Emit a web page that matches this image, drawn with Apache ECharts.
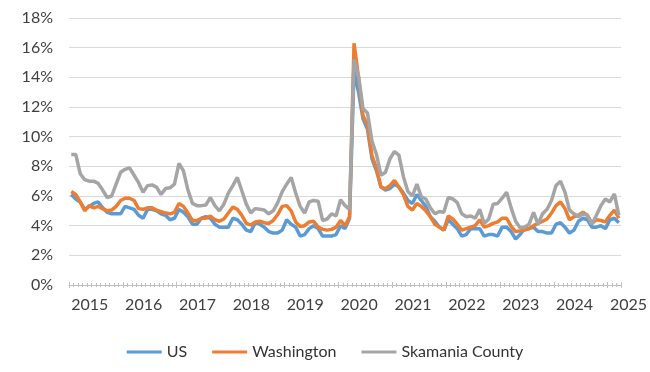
<!DOCTYPE html>
<html><head><meta charset="utf-8">
<script src="https://cdn.jsdelivr.net/npm/echarts@6/dist/echarts.min.js"></script>
<style>html,body{margin:0;padding:0;background:#fff}#c{width:650px;height:372px}</style>
</head><body><div id="c"></div>
<script>
// Monthly, Jan 2015 .. Mar 2025 (123 months)
const startYear = 2015;
const monthCount = 123;
const yTicks = [0, 2, 4, 6, 8, 10, 12, 14, 16, 18];

const usRate = [
  6.1,5.8,5.6,5.1,5.3,5.5,5.6,5.2,4.9,4.8,4.8,4.8,
  5.3,5.2,5.1,4.7,4.5,5.1,5.1,5.0,4.8,4.7,4.4,4.5,
  5.1,4.9,4.6,4.1,4.1,4.5,4.6,4.5,4.1,3.9,3.9,3.9,
  4.5,4.4,4.1,3.7,3.6,4.2,4.1,3.9,3.6,3.5,3.5,3.7,
  4.4,4.1,3.9,3.3,3.4,3.8,4.0,3.8,3.3,3.3,3.3,3.4,
  4.0,3.8,4.5,14.4,13.0,11.2,10.5,8.5,7.7,6.6,6.4,6.5,
  6.8,6.6,6.2,5.7,5.5,6.1,5.7,5.3,4.6,4.3,3.9,3.7,
  4.4,4.1,3.8,3.3,3.4,3.8,3.8,3.8,3.3,3.4,3.4,3.3,
  3.9,3.9,3.6,3.1,3.4,3.8,3.8,3.9,3.6,3.6,3.5,3.5,
  4.1,4.2,3.9,3.5,3.7,4.3,4.5,4.4,3.9,3.9,4.0,3.8,
  4.4,4.5,4.2
];
const washingtonRate = [
  6.3,6.1,5.6,5.0,5.35,5.2,5.3,5.15,5.0,5.05,5.3,5.7,
  5.85,5.85,5.7,5.15,5.1,5.2,5.2,5.05,4.95,4.85,4.8,4.9,
  5.5,5.3,4.85,4.35,4.35,4.5,4.5,4.65,4.4,4.3,4.45,4.85,
  5.25,5.1,4.7,4.15,4.05,4.25,4.3,4.2,4.15,4.35,4.75,5.3,
  5.35,5.0,4.25,3.95,4.0,4.25,4.3,3.9,3.75,3.7,3.75,3.9,
  4.35,4.0,4.6,16.3,14.0,11.4,10.8,8.7,7.9,6.6,6.5,6.7,
  7.05,6.6,6.1,5.3,5.05,5.5,5.3,5.0,4.6,4.1,3.9,3.7,
  4.65,4.45,4.1,3.7,3.8,3.9,4.0,4.4,3.9,4.0,4.15,4.25,
  4.5,4.5,3.95,3.6,3.65,3.7,3.8,4.0,4.15,4.3,4.45,4.85,
  5.35,5.6,5.15,4.4,4.6,4.7,4.9,4.7,4.15,4.4,4.35,4.25,
  4.7,5.05,4.5
];
const skamaniaRate = [
  8.8,8.8,7.5,7.1,7.0,7.0,6.85,6.4,5.9,6.0,6.8,7.6,
  7.8,7.9,7.4,6.9,6.25,6.7,6.75,6.6,6.1,6.5,6.55,6.8,
  8.2,7.7,6.4,5.5,5.35,5.35,5.4,5.9,5.35,5.0,5.45,6.2,
  6.7,7.25,6.35,5.45,4.85,5.15,5.1,5.05,4.8,5.0,5.55,6.3,
  6.8,7.25,6.2,5.3,4.85,5.6,5.7,5.65,4.35,4.45,4.8,4.65,
  5.75,5.35,5.1,15.2,14.1,11.9,11.6,9.7,8.8,7.4,7.6,8.5,
  9.0,8.75,7.3,6.3,6.0,6.8,5.95,5.8,5.2,4.8,4.95,4.9,
  5.9,5.8,5.55,4.8,4.6,4.65,4.5,5.1,4.15,4.45,5.45,5.5,
  5.85,6.25,5.2,4.3,3.85,3.9,4.1,4.9,4.1,4.8,5.1,5.7,
  6.7,7.0,6.25,5.05,4.8,4.6,4.8,4.7,4.1,4.7,5.35,5.8,
  5.6,6.15,4.7
];

const categories = [];
for (let i = 0; i < monthCount; i++) {
  const y = startYear + Math.floor(i / 12);
  const m = (i % 12) + 1;
  categories.push(y + '-' + (m < 10 ? '0' + m : m));
}

const FONT = 'Lato, "Open Sans", sans-serif';
const axisColor = '#BFBFBF';

function tickAxis(interval, inside, len, extra) {
  return Object.assign({
    type: 'category', data: categories, boundaryGap: true, position: 'bottom',
    axisLine: { show: false },
    axisLabel: { show: false },
    splitLine: { show: false },
    axisTick: { show: true, interval: interval, inside: inside, length: len,
      lineStyle: { color: axisColor, width: 1 } }
  }, extra || {});
}

const chart = echarts.init(document.getElementById('c'), null, { renderer: 'canvas' });
chart.setOption({
  animation: false,
  textStyle: { fontFamily: FONT },
  grid: { left: 69, right: 28, top: 18, bottom: 87, containLabel: false },
  legend: {
    bottom: 7, left: 'center', icon: 'rect', itemWidth: 35, itemHeight: 3, itemGap: 25,
    textStyle: { fontFamily: FONT, fontSize: 16, color: '#333333' },
    data: ['US', 'Washington', 'Skamania County']
  },
  xAxis: [
    tickAxis(0, false, 2, {
      axisLine: { show: true, lineStyle: { color: axisColor, width: 1 } },
      axisLabel: {
        show: true, interval: function (i) { return i % 12 === 0; },
        formatter: function (v) { return v.slice(0, 4); },
        align: 'left', margin: 12,
        fontFamily: FONT, fontSize: 16, color: '#404040'
      }
    }),
    tickAxis(0, true, 2),
    tickAxis(11, false, 3),
    tickAxis(11, true, 3)
  ],
  yAxis: {
    type: 'value', min: yTicks[0], max: yTicks[yTicks.length - 1], interval: 2,
    axisLine: { show: false }, axisTick: { show: false },
    axisLabel: { formatter: '{value}%', fontFamily: FONT, fontSize: 16, color: '#404040', margin: 16 },
    splitLine: { lineStyle: { color: '#D9D9D9', width: 1 } }
  },
  series: [
    { name: 'US', type: 'line', data: usRate, symbol: 'none', xAxisIndex: 0,
      lineStyle: { color: '#5B9BD5', width: 3.5 }, itemStyle: { color: '#5B9BD5' } },
    { name: 'Washington', type: 'line', data: washingtonRate, symbol: 'none', xAxisIndex: 0,
      lineStyle: { color: '#ED7D31', width: 3.5 }, itemStyle: { color: '#ED7D31' } },
    { name: 'Skamania County', type: 'line', data: skamaniaRate, symbol: 'none', xAxisIndex: 0,
      lineStyle: { color: '#A5A5A5', width: 3.5 }, itemStyle: { color: '#A5A5A5' } }
  ]
});
</script>
</body></html>
